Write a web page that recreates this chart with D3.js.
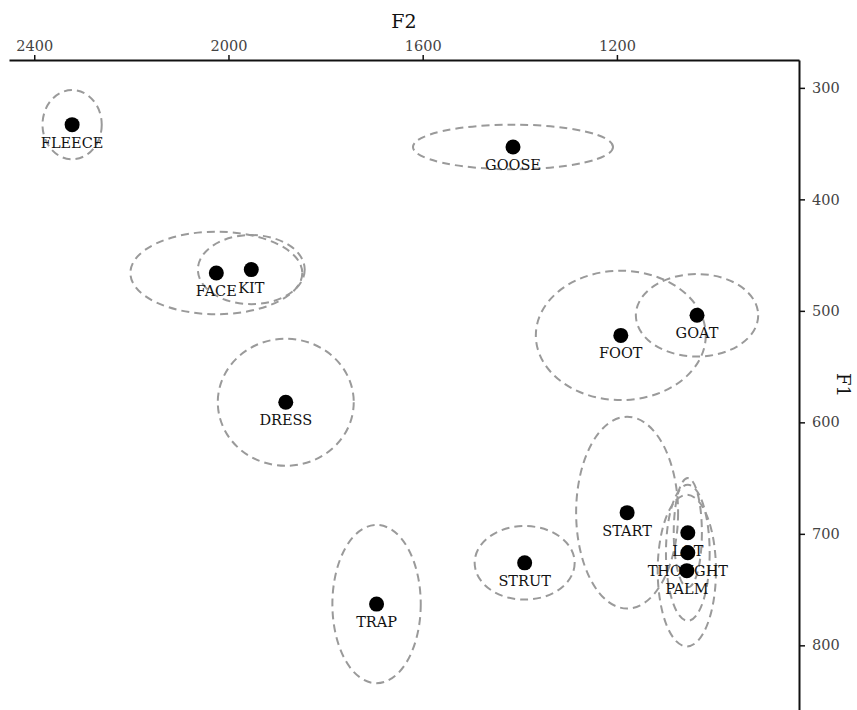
<!DOCTYPE html>
<html>
<head>
    <meta charset="utf-8">
    <script src="https://d3js.org/d3.v7.min.js"></script>
    <style>
        body { margin: 0; background: #fff; }
        text { font-family: "DejaVu Serif", serif; }
    </style>
</head>
<body>
    <svg id="chart"></svg>
    <script>
        // vowel means and spread (Hz)
        var vowels = ["FLEECE", "GOOSE", "FACE", "KIT", "DRESS", "FOOT", "GOAT", "START", "LOT", "THOUGHT", "PALM", "STRUT", "TRAP"];
        var f2Mean = [2322, 1414, 2025, 1953, 1882, 1192, 1035, 1179, 1054, 1054, 1056, 1390, 1695];
        var f1Mean = [333, 353, 466, 463, 582, 522, 504, 681, 699, 717, 733, 726, 763];
        var f2Spread = [61, 206, 177, 110, 140, 175, 126, 105, 29, 45, 60, 103, 91];
        var f1Spread = [31, 20, 37, 31, 57, 58, 37, 86, 49, 61, 68, 33, 71];

        var f2Ticks = [2400, 2000, 1600, 1200];
        var f1Ticks = [300, 400, 500, 600, 700, 800];

        var width = 857, height = 710;

        var svg = d3.select("#chart")
            .attr("width", width)
            .attr("height", height);

        // F2 runs right to left, F1 runs top to bottom
        var x = d3.scaleLinear().domain([2452, 825]).range([9, 799]);
        var y = d3.scaleLinear().domain([275, 858]).range([60, 710]);

        var data = vowels.map(function (v, i) {
            return { name: v, f2: f2Mean[i], f1: f1Mean[i], s2: f2Spread[i], s1: f1Spread[i] };
        });

        // ellipses
        svg.append("g")
            .selectAll("ellipse")
            .data(data)
            .join("ellipse")
            .attr("cx", d => x(d.f2))
            .attr("cy", d => y(d.f1))
            .attr("rx", d => Math.abs(x(d.f2 + d.s2) - x(d.f2)))
            .attr("ry", d => Math.abs(y(d.f1 + d.s1) - y(d.f1)))
            .attr("fill", "none")
            .attr("stroke", "#9a9a9a")
            .attr("stroke-width", 2)
            .attr("stroke-dasharray", "8,5");

        // labels under the points
        svg.append("g")
            .selectAll("text")
            .data(data)
            .join("text")
            .attr("x", d => x(d.f2))
            .attr("y", d => y(d.f1) + 23)
            .attr("text-anchor", "middle")
            .style("font-size", "14.5px")
            .style("fill", "#111")
            .text(d => d.name);

        // points
        svg.append("g")
            .selectAll("circle")
            .data(data)
            .join("circle")
            .attr("cx", d => x(d.f2))
            .attr("cy", d => y(d.f1))
            .attr("r", 7.5)
            .attr("fill", "#000");

        // top axis
        var axisTop = svg.append("g")
            .attr("transform", "translate(0,60)")
            .call(d3.axisTop(x).tickValues(f2Ticks).tickFormat(d3.format("d"))
                .tickSize(5).tickSizeOuter(0).tickPadding(4));

        // right axis
        var axisRight = svg.append("g")
            .attr("transform", "translate(799,0)")
            .call(d3.axisRight(y).tickValues(f1Ticks).tickFormat(d3.format("d"))
                .tickSize(6).tickSizeOuter(0).tickPadding(7));

        [axisTop, axisRight].forEach(function (a) {
            a.attr("font-family", "DejaVu Serif, serif").attr("font-size", 14.5);
            a.select(".domain").attr("stroke", "#111").attr("stroke-width", 2);
            a.selectAll(".tick line").attr("stroke", "#111").attr("stroke-width", 1.5);
            a.selectAll(".tick text").attr("fill", "#444");
        });

        // axis titles
        svg.append("text")
            .attr("x", 404)
            .attr("y", 28)
            .attr("text-anchor", "middle")
            .style("font-size", "19px")
            .style("fill", "#111")
            .text("F2");

        svg.append("text")
            .attr("transform", "translate(837,385) rotate(90)")
            .attr("text-anchor", "middle")
            .style("font-size", "18px")
            .style("fill", "#111")
            .text("F1");
    </script>
</body>
</html>
